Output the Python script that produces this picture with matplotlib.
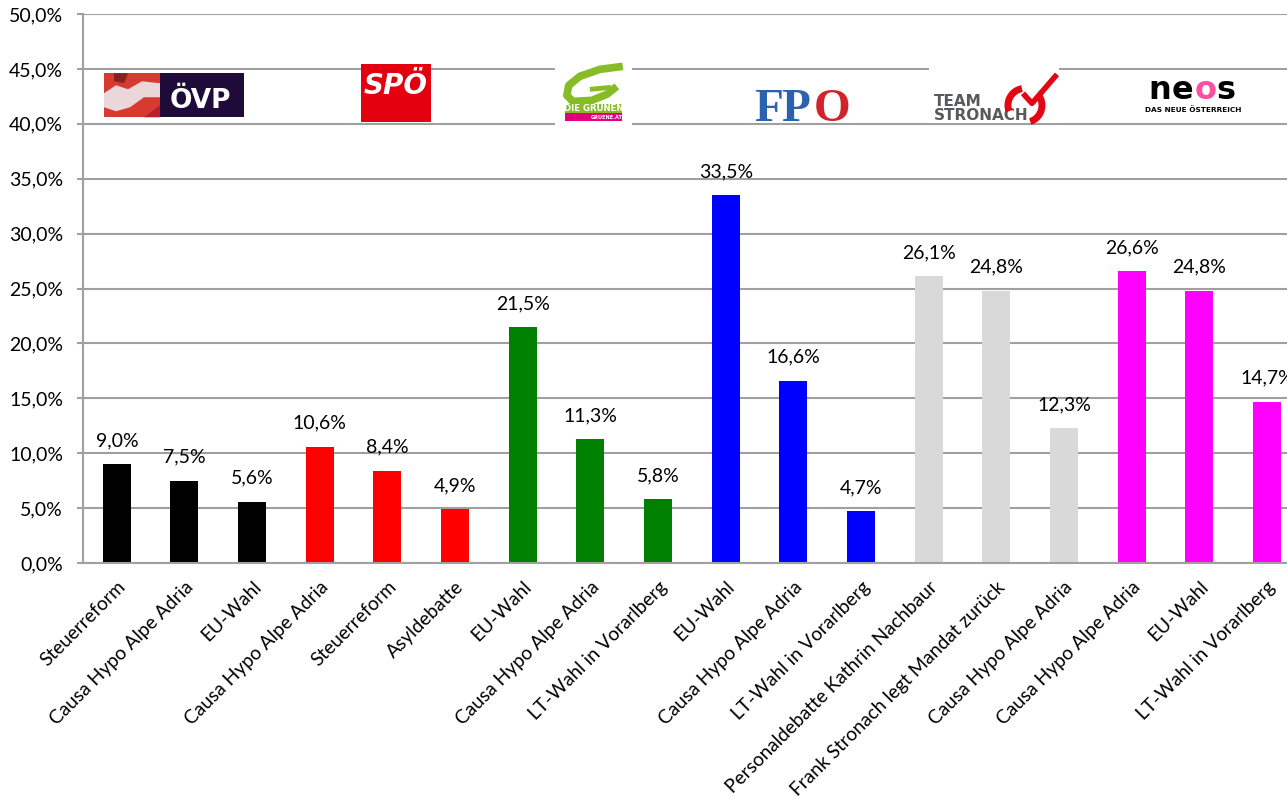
import numpy as np
import matplotlib
matplotlib.use("Agg")
import matplotlib.pyplot as plt
from matplotlib.patches import Rectangle, Polygon
from matplotlib.transforms import Affine2D, ScaledTranslation

plt.rcParams['font.family'] = ['Lato', 'DejaVu Sans']

# data
labels = ["Steuerreform", "Causa Hypo Alpe Adria", "EU-Wahl",
          "Causa Hypo Alpe Adria", "Steuerreform", "Asyldebatte",
          "EU-Wahl", "Causa Hypo Alpe Adria", "LT-Wahl in Vorarlberg",
          "EU-Wahl", "Causa Hypo Alpe Adria", "LT-Wahl in Vorarlberg",
          "Personaldebatte Kathrin Nachbaur", "Frank Stronach legt Mandat zurück",
          "Causa Hypo Alpe Adria",
          "Causa Hypo Alpe Adria", "EU-Wahl", "LT-Wahl in Vorarlberg"]
values = [9.0, 7.5, 5.6,
          10.6, 8.4, 4.9,
          21.5, 11.3, 5.8,
          33.5, 16.6, 4.7,
          26.1, 24.8, 12.3,
          26.6, 24.8, 14.7]
parties = ["ÖVP", "SPÖ", "Grüne", "FPÖ", "Stronach", "NEOS"]
party_colors = ["#000000", "#FF0000", "#008000", "#0000FF", "#D9D9D9", "#FF00FF"]
per_party = 3

colors = [c for c in party_colors for _ in range(per_party)]
x = np.arange(len(values))

fig = plt.figure(figsize=(12.87, 7.96), dpi=100)
ax = fig.add_axes([0.0645, 0.2927, 0.9462, 0.6897])

grid_c = "#A0A0A0"
ax.bar(x, values, width=0.414, color=colors, zorder=2)
ax.set_xlim(-0.5, len(values) - 0.5)
ax.set_ylim(0, 50)
ax.set_yticks(np.arange(0, 51, 5))
ax.set_yticklabels([f"{v:.1f}%".replace(".", ",") for v in np.arange(0, 51, 5)])
ax.yaxis.grid(True, color=grid_c, linewidth=1.5)
ax.set_axisbelow(True)
for s in ["top", "right"]:
    ax.spines[s].set_visible(False)
for s in ["left", "bottom"]:
    ax.spines[s].set_color(grid_c)
    ax.spines[s].set_linewidth(1.5)
ax.tick_params(axis="y", length=4.3, width=1.5, color=grid_c, pad=10, labelsize=14)
ax.tick_params(axis="x", length=0, pad=11, labelsize=13.8)
ax.set_xticks(x)
ax.set_xticklabels(labels, rotation=45, ha="right", va="top", rotation_mode="anchor")

for xi, v in zip(x, values):
    ax.annotate(f"{v:.1f}%".replace(".", ","), (xi, v), xytext=(0, 13),
                textcoords="offset points", ha="center", va="baseline",
                fontsize=14)


# logos, drawn in pixel offsets around a data anchor (y pointing down)
def logo_tf(xc, yc):
    return (Affine2D().scale(1 / fig.dpi, -1 / fig.dpi) + fig.dpi_scale_trans
            + ScaledTranslation(xc, yc, ax.transData))


def rect(tf, x0, y0, x1, y1, color):
    ax.add_patch(Rectangle((x0, y0), x1 - x0, y1 - y0, transform=tf,
                           facecolor=color, edgecolor="none", zorder=4, clip_on=False))


def txt(tf, xx, yy, s, **kw):
    kw.setdefault("family", "DejaVu Sans")
    kw.setdefault("weight", "bold")
    ax.text(xx, yy, s, transform=tf, zorder=5, clip_on=False, **kw)


def stroke(tf, xs, ys, color, lw):
    ax.plot(xs, ys, transform=tf, color=color, lw=lw, solid_capstyle="butt",
            solid_joinstyle="round", zorder=5, clip_on=False)


# ÖVP
tf = logo_tf(0.845, 42.6)
rect(tf, -70, -22, -14, 22, "#D63A30")
ax.add_patch(Polygon([(-70, -2), (-58, -10), (-46, -6), (-32, -14), (-14, -12),
                      (-14, 2), (-30, 2), (-44, 12), (-58, 16), (-70, 12)],
                     transform=tf, facecolor="#EBD6DA", edgecolor="none", zorder=4))
ax.add_patch(Polygon([(-60, -22), (-46, -22), (-50, -12), (-60, -14)],
                     transform=tf, facecolor="#8A2020", edgecolor="none", zorder=4))
ax.add_patch(Polygon([(-30, 22), (-14, 10), (-14, 22)],
                     transform=tf, facecolor="#B52228", edgecolor="none", zorder=4))
rect(tf, -14, -22, 70, 22, "#1E0B3A")
txt(tf, 26, 13, "ÖVP", color="white", fontsize=19, ha="center", va="baseline")

# SPÖ
tf = logo_tf(4.127, 42.8)
rect(tf, -35, -29, 35, 29, "#E3000F")
txt(tf, 0, 1, "SPÖ", color="white", fontsize=20, style="italic",
    ha="center", va="baseline")

# Grüne
tf = logo_tf(7.05, 42.5)
rect(tf, -39, -35, 38, 32, "white")
g = np.array([(29, -30), (6, -27), (-14, -20), (-25, -11), (-27, -1),
              (-21, 5), (-2, 4), (13, -2), (23, -10)])
stroke(tf, g[:, 0], g[:, 1], "#86BC25", 5.5)
stroke(tf, [-4, 17], [-7, -9], "#86BC25", 3.5)
rect(tf, -29, 8, 28, 17, "#86BC25")
txt(tf, -0.5, 12.5, "DIE GRÜNEN", color="white", fontsize=6.2, ha="center", va="center")
rect(tf, -29, 17, 28, 25, "#E5007D")
txt(tf, 13, 21, "GRUENE.AT", color="white", fontsize=3.6, ha="center", va="center")

# FPÖ
tf = logo_tf(10.13, 42.0)
for s, dx, c in [("F", -34, "#2A62AE"), ("P", -7, "#2A62AE"), ("O", 30, "#D2232A")]:
    txt(tf, dx, 19, s, color=c, fontsize=34, family="Liberation Serif",
        ha="center", va="baseline")

# Team Stronach
tf = logo_tf(12.98, 42.5)
rect(tf, -66, -37, 64, 27, "white")
txt(tf, -61, 5, "TEAM", color="#58595B", fontsize=11, ha="left", va="center")
txt(tf, -61, 19, "STRONACH", color="#58595B", fontsize=11, ha="left", va="center")
for a0, a1 in [(100, 200), (35, -72)]:
    th = np.radians(np.linspace(a0, a1, 40))
    stroke(tf, 30 + 17 * np.cos(th), 9 - 17 * np.sin(th), "#E30613", 5)
stroke(tf, [28, 37, 62], [-3, 7, -22], "#E30613", 4)

# NEOS
tf = logo_tf(15.91, 42.7)
for s, dx, c in [("n", -33, "black"), ("e", -11, "black"),
                 ("o", 12, "#FF4FA3"), ("s", 33, "black")]:
    txt(tf, dx, 5, s, color=c, fontsize=23, ha="center", va="baseline")
txt(tf, 0, 15.5, "DAS NEUE ÖSTERREICH", color="black", fontsize=5.3,
    ha="center", va="center")

fig.savefig("out.png", dpi=100)
